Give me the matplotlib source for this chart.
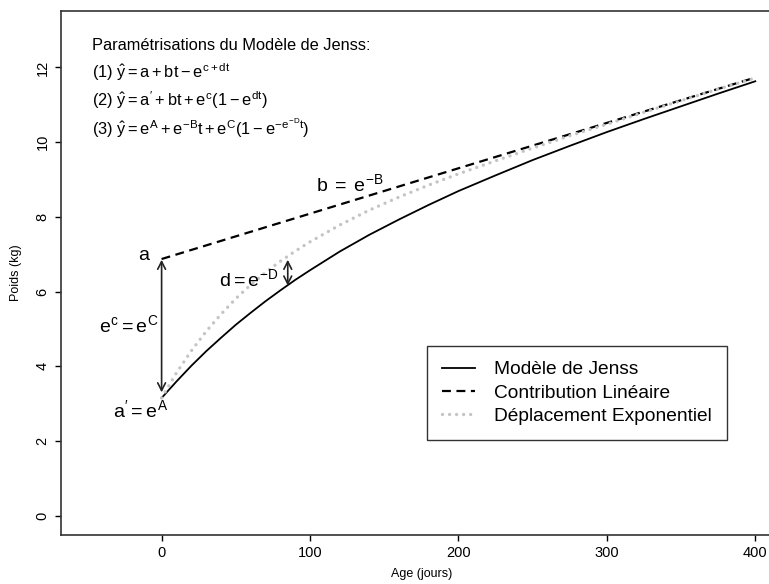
# Modele de Jenss - parametrisations

import matplotlib
matplotlib.use("Agg")
import matplotlib.pyplot as plt

# --------------------------------------------
# Data
# --------------------------------------------

age = [0, 10, 20, 30, 40, 50, 60, 70, 80, 90, 100, 120, 140, 160, 180,
       200, 225, 250, 275, 300, 325, 350, 375, 400]

jenss = [3.15, 3.59, 4.01, 4.40, 4.76, 5.11, 5.43, 5.74, 6.03, 6.31, 6.57,
         7.07, 7.52, 7.93, 8.32, 8.69, 9.11, 9.52, 9.90, 10.27, 10.62,
         10.96, 11.30, 11.63]

deplacement = [3.15, 3.82, 4.41, 4.93, 5.39, 5.81, 6.18, 6.51, 6.81, 7.08,
               7.33, 7.78, 8.18, 8.53, 8.85, 9.15, 9.50, 9.84, 10.17, 10.48,
               10.80, 11.11, 11.42, 11.72]

lin_age = [0, 400]
lineaire = [6.87, 11.73]

legend_labels = ["Modèle de Jenss", "Contribution Linéaire",
                 "Déplacement Exponentiel"]

x_ticks = [0, 100, 200, 300, 400]
y_ticks = [0, 2, 4, 6, 8, 10, 12]

# --------------------------------------------
# Style
# --------------------------------------------

plt.rcParams["font.family"] = ["Liberation Sans", "DejaVu Sans"]
plt.rcParams["mathtext.fontset"] = "custom"
plt.rcParams["mathtext.rm"] = "Liberation Sans"
plt.rcParams["mathtext.it"] = "Liberation Sans"
plt.rcParams["mathtext.bf"] = "Liberation Sans:bold"

fs = 11.8
fs_note = 14

fig = plt.figure(figsize=(7.69, 5.84), dpi=100)
ax = fig.add_axes([0.0789, 0.0839, 0.938, 0.8978])

# --------------------------------------------
# Curves
# --------------------------------------------

ax.plot(age, jenss, color="black", lw=1.3, label=legend_labels[0])
ax.plot(lin_age, lineaire, color="black", lw=1.6, ls=(0, (4, 2.5)),
        label=legend_labels[1])
ax.plot(age, deplacement, color="#c4c4c4", lw=2.4, ls=(0, (0.01, 2.1)),
        dash_capstyle="round", label=legend_labels[2])

# --------------------------------------------
# Formulas
# --------------------------------------------

ax.text(-47, 12.6, "Paramétrisations du Modèle de Jenss:", fontsize=fs,
        va="center", ha="left")
ax.text(-47, 11.88, r"(1) $\hat{y} = a + bt - e^{c+dt}$", fontsize=fs,
        va="center", ha="left")
ax.text(-47, 11.12, r"(2) $\hat{y} = a' + bt + e^{c}(1 - e^{dt})$",
        fontsize=fs, va="center", ha="left")
ax.text(-47, 10.36, r"(3) $\hat{y} = e^{A} + e^{-B}t + e^{C}(1 - e^{-e^{-D}t})$",
        fontsize=fs, va="center", ha="left")

# --------------------------------------------
# Annotations
# --------------------------------------------

arrow = dict(arrowstyle="<->,head_length=0.55,head_width=0.28",
             color="#222222", lw=1.2, shrinkA=0, shrinkB=0)

ax.annotate("", xy=(0, 3.3), xytext=(0, 6.85), arrowprops=arrow)
ax.annotate("", xy=(85, 6.16), xytext=(85, 6.85), arrowprops=arrow)

ax.text(-12, 6.97, "a", fontsize=fs_note, ha="center", va="center")
ax.text(-2, 5.1, r"$e^{c} = e^{C}$", fontsize=fs_note, ha="right", va="center")
ax.text(-14, 2.83, r"$a' = e^{A}$", fontsize=fs_note, ha="center", va="center")
ax.text(127, 8.88, r"$b\;=\;e^{-B}$", fontsize=fs_note, ha="center", va="center")
ax.text(59, 6.32, r"$d = e^{-D}$", fontsize=fs_note, ha="center", va="center")

# --------------------------------------------
# Legend
# --------------------------------------------

leg = ax.legend(loc="lower left", bbox_to_anchor=(0.508, 0.181),
                borderaxespad=0, fontsize=13.8, frameon=True, fancybox=False,
                edgecolor="black", handlelength=1.7, handletextpad=1.0,
                labelspacing=0.3, borderpad=0.8)
leg.get_frame().set_linewidth(1.0)

# --------------------------------------------
# Axes
# --------------------------------------------

ax.set_xlim(-68, 418)
ax.set_ylim(-0.52, 13.52)
ax.set_xticks(x_ticks)
ax.set_yticks(y_ticks)
ax.tick_params(direction="out", length=4, width=1, labelsize=10.5, pad=4)
for lab in ax.get_yticklabels():
    lab.set_rotation(90)
    lab.set_va("center")
for sp in ax.spines.values():
    sp.set_linewidth(1.2)
    sp.set_color("#333333")

ax.set_xlabel("Age (jours)", fontsize=9, labelpad=6)
ax.set_ylabel("Poids (kg)", fontsize=9, labelpad=10)

plt.savefig("out.png", dpi=100)
